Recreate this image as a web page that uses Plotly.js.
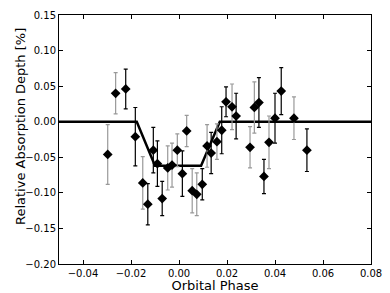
<!DOCTYPE html>
<html>
<head>
<meta charset="utf-8">
<script src="https://cdn.plot.ly/plotly-3.0.1.min.js"></script>
<style>
html,body{margin:0;padding:0;background:#fff;}
#chart{width:390px;height:293px;}
</style>
</head>
<body>
<div id="chart"></div>
<script>
// Observed points
var phase = [-0.0297,-0.0264,-0.0222,-0.0182,-0.0151,-0.0130,-0.0107,-0.0090,-0.0070,-0.0047,-0.0029,-0.0007,0.0014,0.0032,0.0055,0.0074,0.0097,0.0117,0.0134,0.0158,0.0178,0.0196,0.0221,0.0238,0.0296,0.0314,0.0333,0.0354,0.0375,0.0400,0.0426,0.0479,0.0533];
var depth = [-0.046,0.040,0.046,-0.021,-0.086,-0.116,-0.040,-0.059,-0.108,-0.065,-0.061,-0.040,-0.073,-0.013,-0.097,-0.102,-0.088,-0.034,-0.044,-0.028,-0.012,0.028,0.021,0.008,-0.036,0.020,0.027,-0.077,-0.029,0.005,0.043,0.005,-0.040];
var depthErr = [0.042,0.029,0.028,0.041,0.037,0.029,0.032,0.032,0.024,0.031,0.031,0.023,0.032,0.022,0.031,0.030,0.022,0.030,0.029,0.025,0.033,0.021,0.032,0.032,0.029,0.036,0.035,0.024,0.037,0.035,0.033,0.030,0.030];
var errShade = ['g','g','k','k','g','k','k','k','k','g','g','g','k','g','g','g','k','g','k','g','k','k','g','k','g','g','k','k','g','k','k','g','k'];

// Transit model
var modelPhase = [-0.05,-0.0176,-0.0100,0.0092,0.0170,0.08];
var modelDepth = [0,0,-0.062,-0.062,0,0];

var xTitle = 'Orbital Phase';
var yTitle = 'Relative Absorption Depth [%]';

function pick(arr, shade){ return arr.filter(function(v,i){return errShade[i]===shade;}); }

var traces = [
  {x: modelPhase, y: modelDepth, mode:'lines', line:{color:'#000', width:2.5}, hoverinfo:'skip', showlegend:false},
  {x: pick(phase,'g'), y: pick(depth,'g'), mode:'markers', marker:{size:0.1, color:'rgba(0,0,0,0)'},
   error_y:{type:'data', array: pick(depthErr,'g'), symmetric:true, color:'#999999', thickness:1.2, width:2}, showlegend:false},
  {x: pick(phase,'k'), y: pick(depth,'k'), mode:'markers', marker:{size:0.1, color:'rgba(0,0,0,0)'},
   error_y:{type:'data', array: pick(depthErr,'k'), symmetric:true, color:'#000000', thickness:1.2, width:2}, showlegend:false},
  {x: phase, y: depth, mode:'markers', marker:{symbol:'diamond', size:7.5, color:'#000', line:{width:0}}, showlegend:false}
];

var axisCommon = {
  showgrid:false, zeroline:false, showline:true, mirror:'allticks', linecolor:'#000', linewidth:1,
  ticks:'inside', ticklen:4, tickwidth:1, tickcolor:'#000',
  tickfont:{family:'DejaVu Sans', size:10, color:'#000'}, tickformat:'.2f'
};

var layout = {
  width:390, height:293,
  margin:{l:59, r:19, t:15, b:29},
  paper_bgcolor:'#fff', plot_bgcolor:'#fff',
  xaxis: Object.assign({}, axisCommon, {range:[-0.05,0.08], dtick:0.02, tick0:-0.04,
    title:{text:xTitle, font:{family:'DejaVu Sans', size:13, color:'#000'}, standoff:2}}),
  yaxis: Object.assign({}, axisCommon, {range:[-0.20,0.15], dtick:0.05, tick0:0}),
  annotations:[{
    text:yTitle, textangle:-90, showarrow:false,
    xref:'paper', yref:'paper', x:-0.125, y:0.55, xanchor:'center', yanchor:'middle',
    font:{family:'DejaVu Sans', size:13, color:'#000'}
  }],
  showlegend:false
};

Plotly.newPlot('chart', traces, layout, {staticPlot:true, displayModeBar:false});
</script>
</body>
</html>
